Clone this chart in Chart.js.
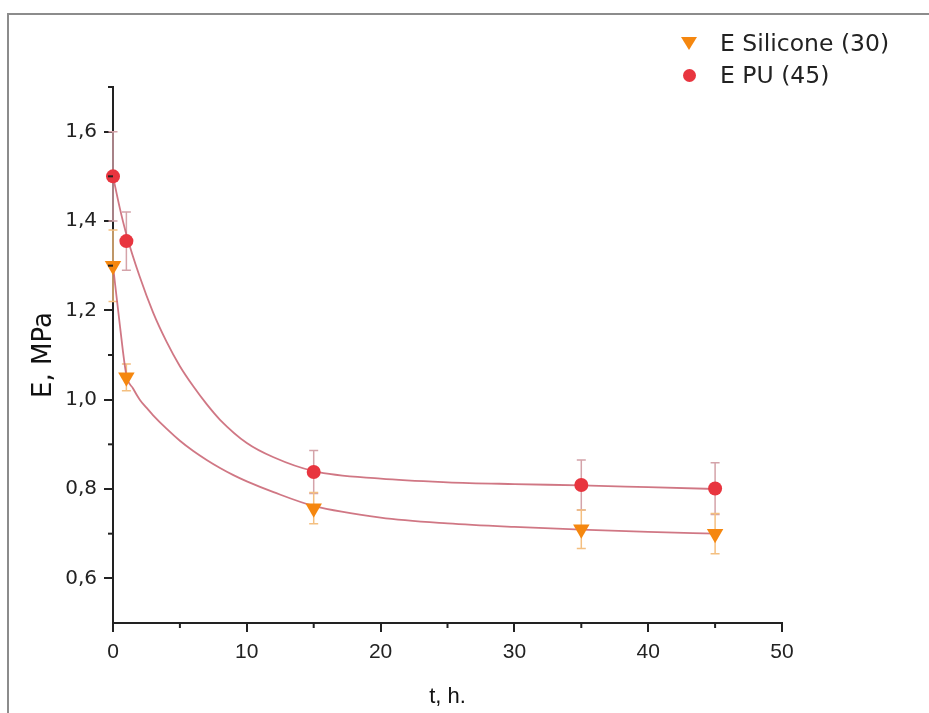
<!DOCTYPE html>
<html lang="en">
<head>
    <meta charset="UTF-8">
    <title>E vs t</title>
    <style>
        body {
            margin: 0;
            padding: 0;
            background-color: #fff;
            overflow: hidden;
        }

        .wrap {
            position: relative;
            width: 929px;
            height: 713px;
        }

        .frame {
            position: absolute;
            left: 7px;
            top: 13px;
            width: 960px;
            height: 740px;
            border: 2px solid #8c8c8c;
            box-sizing: border-box;
            pointer-events: none;
        }

        .legend {
            position: absolute;
            left: 678px;
            top: 27px;
            font-family: 'DejaVu Sans', sans-serif;
            font-size: 23.5px;
            color: #222;
        }

        .legend-row {
            height: 32px;
            display: flex;
            align-items: center;
        }

        .marker-box {
            width: 22px;
            height: 22px;
            display: flex;
            align-items: center;
            justify-content: center;
            margin-right: 20px;
        }

        .tri {
            width: 0;
            height: 0;
            border-left: 8px solid transparent;
            border-right: 8px solid transparent;
            border-top: 13px solid #f5870f;
        }

        .dot {
            width: 13px;
            height: 13px;
            border-radius: 50%;
            background-color: #e8353f;
        }
    </style>
</head>
<body>
    <div class="wrap">
        <canvas id="chart" width="929" height="713"></canvas>
        <div class="frame"></div>
        <div class="legend">
            <div class="legend-row"><div class="marker-box"><div class="tri"></div></div>E Silicone (30)</div>
            <div class="legend-row"><div class="marker-box"><div class="dot"></div></div>E PU (45)</div>
        </div>
    </div>

    <script src="https://cdn.jsdelivr.net/npm/chart.js"></script>
    <script>
        // measured points (t in hours, E in MPa)
        const tSilicone = [0, 1, 15, 35, 45];
        const eSilicone = [1.30, 1.05, 0.757, 0.71, 0.70];
        const errSilicone = [0.08, 0.03, 0.035, 0.043, 0.045];

        const tPU = [0, 1, 15, 35, 45];
        const ePU = [1.50, 1.355, 0.838, 0.809, 0.801];
        const errPU = [0.10, 0.065, 0.048, 0.056, 0.058];

        // fitted curves
        const fitTSilicone = [0, 0.5, 1, 1.5, 2, 2.5, 3, 4, 5, 6, 7, 8, 9, 10, 12, 15, 20, 25, 30, 35, 40, 45];
        const fitESilicone = [1.30, 1.17, 1.055, 1.025, 1.0, 0.982, 0.965, 0.935, 0.908, 0.885, 0.865, 0.847, 0.831, 0.817, 0.793, 0.762, 0.736, 0.723, 0.715, 0.709, 0.704, 0.70];

        const fitTPU = [0, 0.5, 1, 2, 3, 4, 5, 6, 7, 8, 10, 12, 15, 20, 25, 30, 35, 40, 45];
        const fitEPU = [1.50, 1.43, 1.37, 1.275, 1.195, 1.13, 1.075, 1.03, 0.99, 0.955, 0.903, 0.871, 0.84, 0.823, 0.815, 0.811, 0.808, 0.804, 0.80];

        // axis ticks
        const xMajor = [0, 10, 20, 30, 40, 50];
        const xMinor = [5, 15, 25, 35, 45];
        const yMajor = [0.6, 0.8, 1.0, 1.2, 1.4, 1.6];
        const yMinor = [0.7, 0.9, 1.1, 1.3, 1.5, 1.7];

        const red = '#e8353f';
        const orange = '#f5870f';
        const curveColor = 'rgba(200, 95, 110, 0.85)';
        const axisColor = '#222';

        function toPoints(xs, ys) {
            return xs.map((x, i) => ({ x: x, y: ys[i] }));
        }

        const errorBars = {
            id: 'errorBars',
            beforeDatasetsDraw(chart) {
                const ctx = chart.ctx;
                const yScale = chart.scales.y;
                chart.data.datasets.forEach((ds, i) => {
                    if (!ds.errors) return;
                    const meta = chart.getDatasetMeta(i);
                    ctx.save();
                    ctx.strokeStyle = ds.errorColor;
                    ctx.lineWidth = 1.5;
                    meta.data.forEach((pt, j) => {
                        const v = ds.data[j].y;
                        const top = yScale.getPixelForValue(v + ds.errors[j]);
                        const bottom = yScale.getPixelForValue(v - ds.errors[j]);
                        ctx.beginPath();
                        ctx.moveTo(pt.x, top);
                        ctx.lineTo(pt.x, bottom);
                        ctx.moveTo(pt.x - 4.5, top);
                        ctx.lineTo(pt.x + 4.5, top);
                        ctx.moveTo(pt.x - 4.5, bottom);
                        ctx.lineTo(pt.x + 4.5, bottom);
                        ctx.stroke();
                    });
                    ctx.restore();
                });
            }
        };

        const minorTicks = {
            id: 'minorTicks',
            afterDraw(chart) {
                const ctx = chart.ctx;
                const { x, y } = chart.scales;
                ctx.save();
                ctx.strokeStyle = axisColor;
                ctx.lineWidth = 2;
                xMinor.forEach(v => {
                    const px = x.getPixelForValue(v);
                    ctx.beginPath();
                    ctx.moveTo(px, x.top);
                    ctx.lineTo(px, x.top + 5);
                    ctx.stroke();
                });
                yMinor.forEach(v => {
                    const py = y.getPixelForValue(v);
                    ctx.beginPath();
                    ctx.moveTo(y.right, py);
                    ctx.lineTo(y.right - 5, py);
                    ctx.stroke();
                });
                ctx.restore();
            }
        };

        new Chart(document.getElementById('chart'), {
            type: 'scatter',
            data: {
                datasets: [
                    {
                        label: 'E PU (45)',
                        data: toPoints(tPU, ePU),
                        errors: errPU,
                        errorColor: '#d4a3a9',
                        pointStyle: 'circle',
                        pointRadius: 7,
                        backgroundColor: red,
                        borderColor: red,
                        borderWidth: 0,
                        clip: false
                    },
                    {
                        label: 'E Silicone (30)',
                        data: toPoints(tSilicone, eSilicone),
                        errors: errSilicone,
                        errorColor: '#f4bf80',
                        pointStyle: 'triangle',
                        rotation: 180,
                        pointRadius: 9.5,
                        backgroundColor: orange,
                        borderColor: orange,
                        borderWidth: 0,
                        clip: false
                    },
                    {
                        type: 'line',
                        label: 'fit PU',
                        data: toPoints(fitTPU, fitEPU),
                        borderColor: curveColor,
                        borderWidth: 1.8,
                        pointRadius: 0,
                        fill: false,
                        cubicInterpolationMode: 'monotone'
                    },
                    {
                        type: 'line',
                        label: 'fit Silicone',
                        data: toPoints(fitTSilicone, fitESilicone),
                        borderColor: curveColor,
                        borderWidth: 1.8,
                        pointRadius: 0,
                        fill: false,
                        cubicInterpolationMode: 'monotone'
                    }
                ]
            },
            options: {
                responsive: false,
                animation: false,
                layout: { padding: { left: 0, right: 147, top: 87, bottom: 0 } },
                plugins: {
                    legend: { display: false },
                    tooltip: { enabled: false }
                },
                scales: {
                    x: {
                        type: 'linear',
                        min: 0,
                        max: 50,
                        afterBuildTicks: s => { s.ticks = xMajor.map(v => ({ value: v })); },
                        afterFit: s => { s.height = 90; },
                        ticks: {
                            color: axisColor,
                            font: { family: 'Liberation Sans, Arial, sans-serif', size: 21 },
                            padding: 8,
                            maxRotation: 0
                        },
                        grid: {
                            display: true,
                            drawOnChartArea: false,
                            drawTicks: true,
                            tickLength: 9,
                            color: axisColor,
                            lineWidth: 2
                        },
                        border: { display: true, color: axisColor, width: 2 },
                        title: {
                            display: true,
                            text: 't, h.',
                            color: '#111',
                            font: { family: 'Liberation Sans, Arial, sans-serif', size: 22 },
                            padding: { top: 0, bottom: 3 }
                        }
                    },
                    y: {
                        type: 'linear',
                        min: 0.5,
                        max: 1.7,
                        afterBuildTicks: s => { s.ticks = yMajor.map(v => ({ value: v })); },
                        afterFit: s => { s.width = 113; },
                        ticks: {
                            color: axisColor,
                            font: { family: 'DejaVu Sans, sans-serif', size: 20 },
                            padding: 7,
                            callback: v => v.toFixed(1).replace('.', ',')
                        },
                        grid: {
                            display: true,
                            drawOnChartArea: false,
                            drawTicks: true,
                            tickLength: 9,
                            color: axisColor,
                            lineWidth: 2
                        },
                        border: { display: true, color: axisColor, width: 2 },
                        title: {
                            display: true,
                            text: 'E, MPa',
                            color: '#111',
                            font: { family: 'DejaVu Sans, sans-serif', size: 26 },
                            padding: { top: 29, bottom: 0 }
                        }
                    }
                }
            },
            plugins: [errorBars, minorTicks]
        });
    </script>
</body>
</html>
